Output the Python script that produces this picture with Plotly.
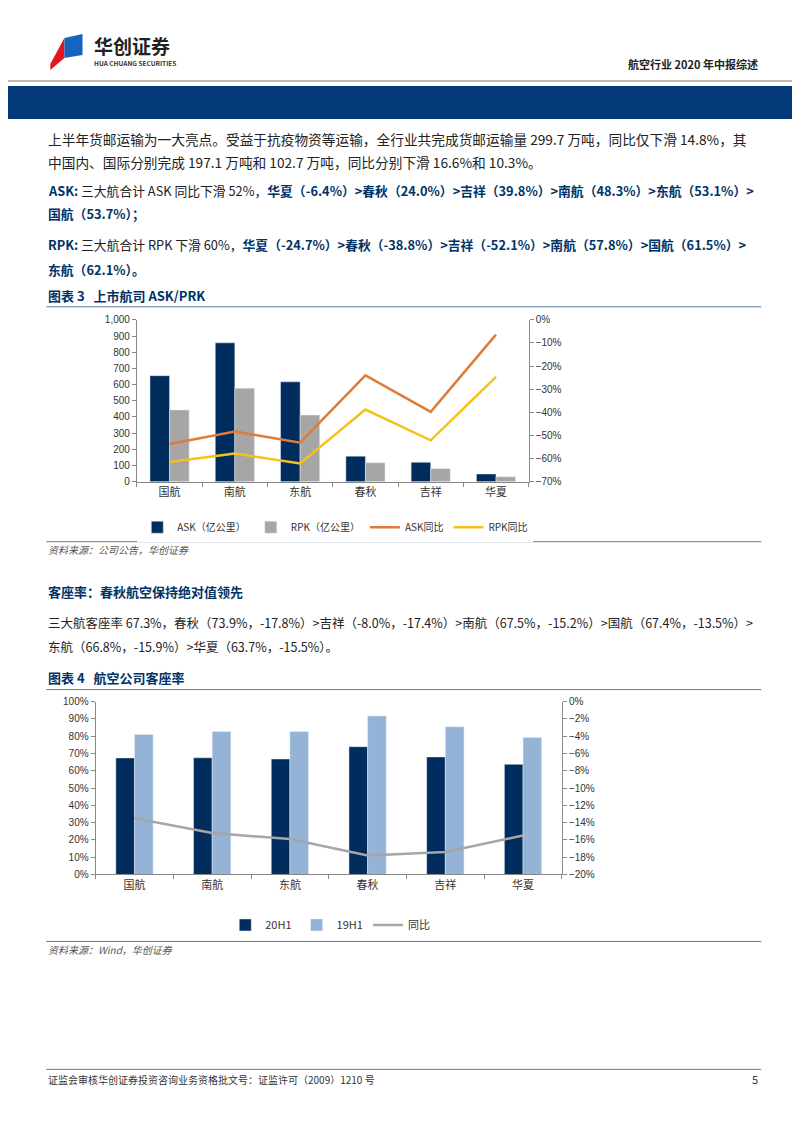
import plotly.graph_objects as go

airlines = ['国航', '南航', '东航', '春秋', '吉祥', '华夏']

# chart 3: ASK / RPK
ask = [655, 858, 617, 158, 120, 48]
rpk = [443, 578, 412, 117, 82, 30]
ask_yoy = [-53.7, -48.3, -53.1, -24.0, -39.8, -6.4]
rpk_yoy = [-61.5, -57.8, -62.1, -38.8, -52.1, -24.7]

# chart 4: load factor
lf_20h1 = [67.4, 67.5, 66.8, 73.9, 68.0, 63.7]
lf_19h1 = [81.0, 82.7, 82.7, 91.7, 85.4, 79.2]
lf_yoy = [-13.5, -15.2, -15.9, -17.8, -17.4, -15.5]

NAVY = '#003366'
FONT = 'Noto Sans CJK SC'
W, H = 800, 1132


def px(x):
    # page offset correction for the browser body margin
    x = (x - 10) / 0.993
    return x / W


def py(y):
    y = (y - 12) / 0.99
    return 1 - y / H


fig = go.Figure()

# chart 3
fig.add_trace(go.Bar(x=airlines, y=ask, name='ASK（亿公里）', marker_color='#002d5e',
                     width=0.3, offset=-0.3, xaxis='x', yaxis='y', legend='legend'))
fig.add_trace(go.Bar(x=airlines, y=rpk, name='RPK（亿公里）', marker_color='#a6a6a6',
                     width=0.3, offset=0, xaxis='x', yaxis='y', legend='legend'))
fig.add_trace(go.Scatter(x=airlines, y=ask_yoy, name='ASK同比', mode='lines',
                         line=dict(color='#e07b39', width=2.5), xaxis='x', yaxis='y2', legend='legend'))
fig.add_trace(go.Scatter(x=airlines, y=rpk_yoy, name='RPK同比', mode='lines',
                         line=dict(color='#f5c21b', width=2.5), xaxis='x', yaxis='y2', legend='legend'))

# chart 4
fig.add_trace(go.Bar(x=airlines, y=lf_20h1, name='20H1', marker_color='#002d5e',
                     width=0.24, offset=-0.24, xaxis='x2', yaxis='y3', legend='legend2'))
fig.add_trace(go.Bar(x=airlines, y=lf_19h1, name='19H1', marker_color='#95b3d7',
                     width=0.24, offset=0, xaxis='x2', yaxis='y3', legend='legend2'))
fig.add_trace(go.Scatter(x=airlines, y=lf_yoy, name='同比', mode='lines',
                         line=dict(color='#a6a6a6', width=2.5), xaxis='x2', yaxis='y4', legend='legend2'))

tick_font = dict(family='Arial', size=10, color='#333')
axis_common = dict(showgrid=False, zeroline=False, showline=True, linecolor='#888',
                   ticks='outside', ticklen=4, tickcolor='#888', tickfont=tick_font)
cat_font = dict(family=FONT, size=11, color='#333')

fig.update_layout(
    width=W, height=H, margin=dict(l=0, r=0, t=0, b=0),
    paper_bgcolor='white', plot_bgcolor='white', barmode='overlay',
    font=dict(family=FONT, color='#222'),
    xaxis=dict(domain=[px(138), px(527)], anchor='y', tickson='boundaries',
               **dict(axis_common, tickfont=cat_font)),
    yaxis=dict(domain=[py(480), py(318)], anchor='x', range=[0, 1000], dtick=100, tickformat=',',
               **axis_common),
    yaxis2=dict(overlaying='y', side='right', anchor='x', range=[-70, 0], dtick=10,
                ticksuffix='%', **axis_common),
    xaxis2=dict(domain=[px(97), px(560)], anchor='y3', tickson='boundaries',
                **dict(axis_common, tickfont=cat_font)),
    yaxis3=dict(domain=[py(873), py(700)], anchor='x2', range=[0, 100], dtick=10, ticksuffix='%',
                **axis_common),
    yaxis4=dict(overlaying='y3', side='right', anchor='x2', range=[-20, 0], dtick=2,
                ticksuffix='%', **axis_common),
    legend=dict(orientation='h', x=px(335), xanchor='center', y=py(511), yanchor='top',
                font=dict(family=FONT, size=10, color='#333'), traceorder='normal'),
    legend2=dict(orientation='h', x=px(330), xanchor='center', y=py(909), yanchor='top',
                 font=dict(family=FONT, size=11, color='#333'), traceorder='normal'),
)

shapes = [
    dict(type='line', x0=px(0), x1=px(800), y0=py(79), y1=py(79), line=dict(color='#bbb', width=2)),
    dict(type='rect', x0=px(0), x1=px(800), y0=py(117), y1=py(84), fillcolor='#043a7a', line_width=0),
    # logo
    dict(type='path', path=f'M {px(52)} {py(62)} L {px(66)} {py(36)} L {px(66)} {py(56)} L {px(52)} {py(68)} Z',
         fillcolor='#e3161d', line_width=0),
    dict(type='path', path=f'M {px(66)} {py(36)} L {px(84)} {py(32)} L {px(84)} {py(53)} L {px(66)} {py(56)} Z',
         fillcolor='#1565c0', line_width=0),
]
for y in [305, 540, 688, 940, 1068]:
    shapes.append(dict(type='line', x0=px(48), x1=px(758), y0=py(y), y1=py(y),
                       line=dict(color='#5a7aa8', width=1)))
fig.update_layout(shapes=[dict(s, xref='paper', yref='paper') for s in shapes])


def txt(x, y, s, size=13, color='#222', anchor='left'):
    fig.add_annotation(x=px(x), y=py(y), xref='paper', yref='paper', text=s, showarrow=False,
                       xanchor=anchor, yanchor='middle', font=dict(family=FONT, size=size, color=color))


B = f'<b><span style="color:{NAVY}">'
E = '</span></b>'
txt(93, 44, '<b>华创证券</b>', size=19, color='#222')
txt(93, 61, '<b>HUA CHUANG SECURITIES</b>', size=6.5, color='#333')
txt(757, 62, '<b>航空行业 2020 年中报综述</b>', size=11, color='#222', anchor='right')

txt(48, 137, '上半年货邮运输为一大亮点。受益于抗疫物资等运输，全行业共完成货邮运输量 299.7 万吨，同比仅下滑 14.8%，其', size=13.7)
txt(48, 160, '中国内、国际分别完成 197.1 万吨和 102.7 万吨，同比分别下滑 16.6%和 10.3%。', size=13.7)
txt(48, 189, f'{B}ASK:{E} 三大航合计 ASK 同比下滑 52%，{B}华夏（-6.4%）>春秋（24.0%）>吉祥（39.8%）>南航（48.3%）>东航（53.1%）>{E}', size=12.8)
txt(48, 212, f'{B}国航（53.7%）；{E}', size=12.8)
txt(48, 243, f'{B}RPK:{E} 三大航合计 RPK 下滑 60%，{B}华夏（-24.7%）>春秋（-38.8%）>吉祥（-52.1%）>南航（57.8%）>国航（61.5%）>{E}', size=12.8)
txt(48, 268, f'{B}东航（62.1%）。{E}', size=12.8)
txt(48, 294, '<b>图表 3   上市航司 ASK/PRK</b>', color=NAVY)
txt(48, 548, '<i>资料来源：公司公告，华创证券</i>', size=10, color='#555')
txt(48, 590, '<b>客座率：春秋航空保持绝对值领先</b>', color=NAVY)
txt(48, 621, '三大航客座率 67.3%，春秋（73.9%，-17.8%）>吉祥（-8.0%，-17.4%）>南航（67.5%，-15.2%）>国航（67.4%，-13.5%）>', size=12.5)
txt(48, 645, '东航（66.8%，-15.9%）>华夏（63.7%，-15.5%）。', size=12.5)
txt(48, 676, '<b>图表 4   航空公司客座率</b>', color=NAVY)
txt(48, 948, '<i>资料来源：Wind，华创证券</i>', size=10, color='#555')
txt(48, 1078, '证监会审核华创证券投资咨询业务资格批文号：证监许可（2009）1210 号', size=10, color='#333')
txt(757, 1078, '5', size=11, color='#333', anchor='right')

fig.write_html('out.html')
